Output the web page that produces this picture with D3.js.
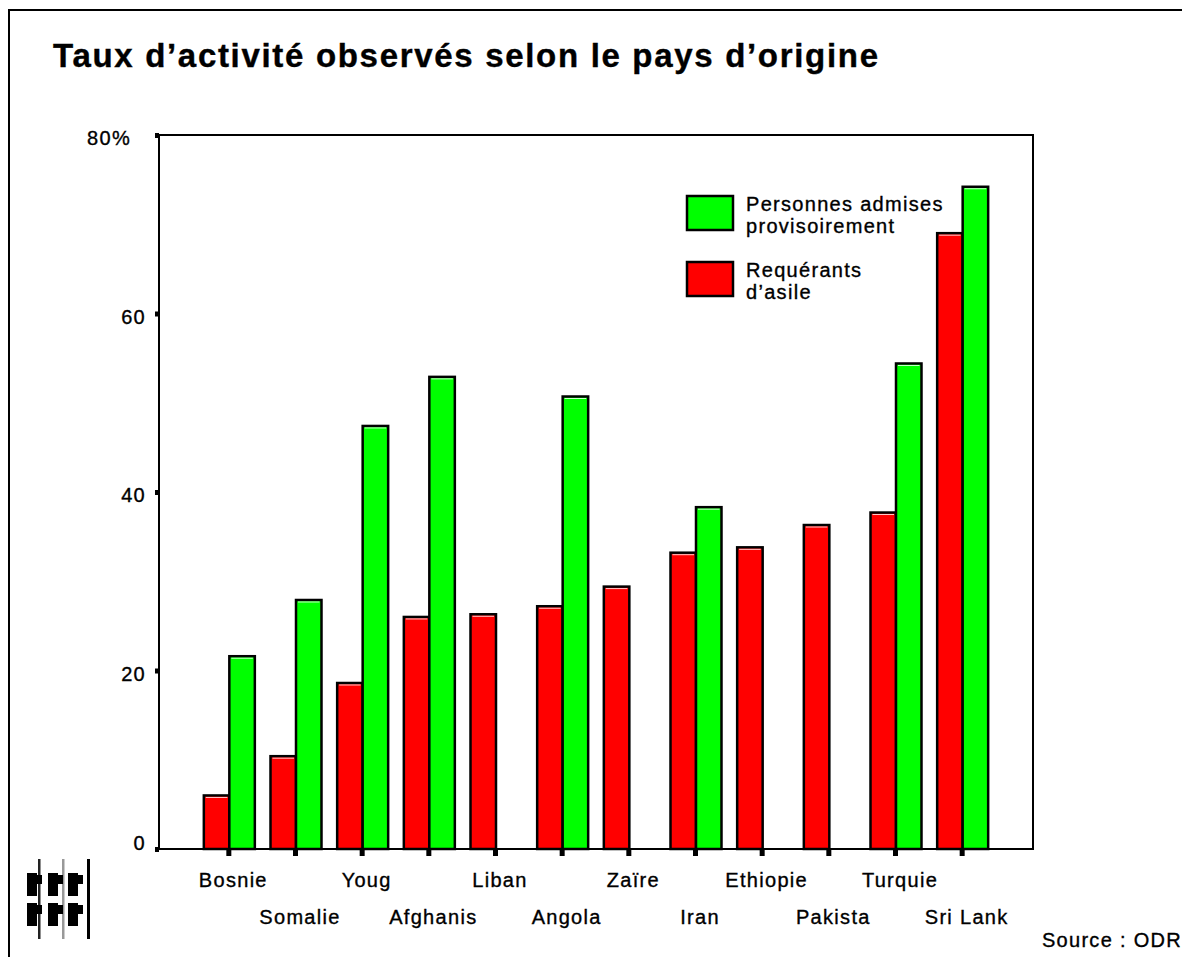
<!DOCTYPE html>
<html>
<head>
<meta charset="utf-8">
<script src="https://cdn.jsdelivr.net/npm/d3@7"></script>
<style>
  body { margin: 0; background: #fff; }
  svg { display: block; font-family: "Liberation Sans", Arial, sans-serif; }
  .lbl { font-size: 20px; letter-spacing: 1.3px; stroke: #000; stroke-width: 0.35px; }
</style>
</head>
<body>
<svg id="chart" width="1182" height="957"></svg>
<script>
// Data
const countries = ['Bosnie', 'Somalie', 'Youg', 'Afghanis', 'Liban', 'Angola', 'Zaïre', 'Iran', 'Ethiopie', 'Pakista', 'Turquie', 'Sri Lank'];
const asylumSeekers = [6.0, 10.4, 18.6, 26.0, 26.3, 27.2, 29.4, 33.2, 33.8, 36.3, 37.7, 69.0];
const provisional = [21.6, 27.9, 47.4, 52.9, null, 50.7, null, 38.3, null, null, 54.4, 74.2];
const yTicks = [0, 20, 40, 60, 80];

const svg = d3.select('#chart');

// outer frame (only left and top edges show)
svg.append('path')
  .attr('d', 'M9,957 V10 H1182')
  .attr('fill', 'none')
  .attr('stroke', '#000')
  .attr('stroke-width', 2);

// title
svg.append('text')
  .attr('x', 53).attr('y', 67)
  .attr('font-size', 33).attr('font-weight', 'bold')
  .attr('stroke', '#000').attr('stroke-width', 0.4)
  .attr('textLength', 825).attr('lengthAdjust', 'spacing')
  .text('Taux d\u2019activité observés selon le pays d\u2019origine');

// plot frame
const plot = { left: 159, top: 135, right: 1033, bottom: 849 };

const y = d3.scaleLinear().domain([0, 80]).range([plot.bottom, plot.top]);
const x = d3.scaleBand().domain(countries).range([196, 996]).padding(0);
const barW = 25.5;

svg.append('rect')
  .attr('x', plot.left).attr('y', plot.top)
  .attr('width', plot.right - plot.left).attr('height', plot.bottom - plot.top)
  .attr('fill', 'none').attr('stroke', '#000').attr('stroke-width', 2);

// bars
const drawBars = (values, offset, color) => {
  const rows = countries.map((c, i) => ({ c, v: values[i] })).filter(d => d.v != null);
  const g = svg.append('g');
  g.selectAll('rect.bar')
    .data(rows)
    .enter()
    .append('rect')
    .attr('class', 'bar')
    .attr('x', d => x(d.c) + x.bandwidth() / 2 + offset)
    .attr('y', d => y(d.v))
    .attr('width', barW)
    .attr('height', d => plot.bottom - y(d.v))
    .attr('fill', color)
    .attr('stroke', '#000')
    .attr('stroke-width', 2.5);
  // thin light edge just under the top outline
  g.selectAll('line.hl')
    .data(rows)
    .enter()
    .append('line')
    .attr('x1', d => x(d.c) + x.bandwidth() / 2 + offset + 2)
    .attr('x2', d => x(d.c) + x.bandwidth() / 2 + offset + barW - 2)
    .attr('y1', d => y(d.v) + 2)
    .attr('y2', d => y(d.v) + 2)
    .attr('stroke', '#fff')
    .attr('stroke-opacity', 0.8)
    .attr('stroke-width', 1);
};
drawBars(asylumSeekers, -barW, '#ff0000');
drawBars(provisional, 0, '#00ff00');

// y axis ticks and labels
const yAxis = svg.append('g');
yAxis.selectAll('rect')
  .data(yTicks)
  .enter()
  .append('rect')
  .attr('x', plot.left - 4).attr('y', d => y(d) - 2)
  .attr('width', 4).attr('height', 5)
  .attr('fill', '#000');
yAxis.selectAll('text')
  .data(yTicks)
  .enter()
  .append('text')
  .attr('class', 'lbl')
  .attr('x', d => d === 80 ? 131 : 146)
  .attr('y', d => y(d) + (d === 0 ? 1 : 10))
  .attr('text-anchor', 'end')
  .text(d => d === 80 ? '80%' : d);

// x axis ticks and staggered labels
const xAxis = svg.append('g');
xAxis.selectAll('rect')
  .data(countries)
  .enter()
  .append('rect')
  .attr('x', d => x(d) + x.bandwidth() / 2 - 3)
  .attr('y', plot.bottom + 1)
  .attr('width', 5).attr('height', 6)
  .attr('fill', '#000');
xAxis.selectAll('text')
  .data(countries)
  .enter()
  .append('text')
  .attr('class', 'lbl')
  .attr('x', d => x(d) + x.bandwidth() / 2 + 4)
  .attr('y', (d, i) => i % 2 === 0 ? 887 : 924)
  .attr('text-anchor', 'middle')
  .text(d => d);

// legend
const legend = [
  { color: '#00ff00', lines: ['Personnes admises', 'provisoirement'], y: 196 },
  { color: '#ff0000', lines: ['Requérants', 'd\u2019asile'], y: 262 }
];
const lg = svg.append('g').selectAll('g').data(legend).enter().append('g');
lg.append('rect')
  .attr('x', 687).attr('y', d => d.y)
  .attr('width', 46).attr('height', 34)
  .attr('fill', d => d.color)
  .attr('stroke', '#000').attr('stroke-width', 2.5);
lg.each(function (d) {
  d3.select(this).selectAll('text')
    .data(d.lines)
    .enter()
    .append('text')
    .attr('class', 'lbl')
    .attr('x', 746)
    .attr('y', (t, i) => d.y + 15 + i * 22)
    .text(t => t);
});

// source note
svg.append('text')
  .attr('class', 'lbl')
  .attr('x', 1182).attr('y', 947)
  .attr('text-anchor', 'end')
  .text('Source : ODR');

// small logo bottom left
const logo = svg.append('g').attr('transform', 'translate(27,859)');
[[11, '#222', 2.5], [35, '#999', 2.5], [60, '#000', 3]].forEach(([lx, c, w]) => {
  logo.append('rect').attr('x', lx).attr('y', 0).attr('width', w).attr('height', 80).attr('fill', c);
});
[[0, 14], [0, 44], [21, 14], [21, 44], [41, 14], [41, 44]].forEach(([bx, by]) => {
  logo.append('rect').attr('x', bx).attr('y', by).attr('width', 10).attr('height', 23).attr('fill', '#000');
  logo.append('rect').attr('x', bx + 10).attr('y', by + 2).attr('width', 5).attr('height', 9).attr('fill', '#000');
});
</script>
</body>
</html>
